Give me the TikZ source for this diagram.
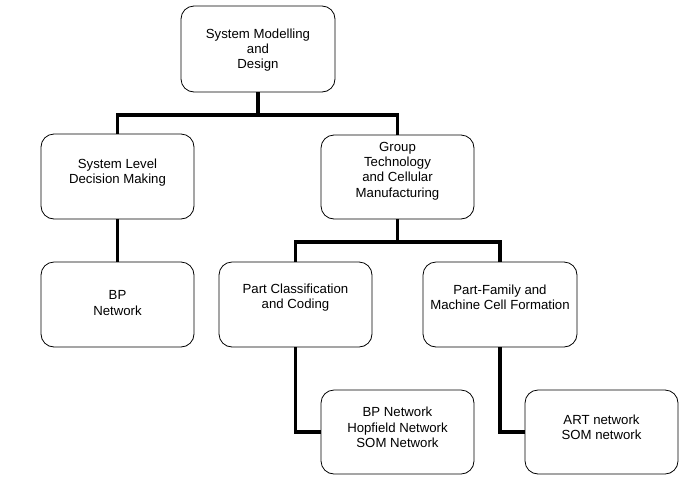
\documentclass[tikz,border=0pt]{standalone}
\usepackage{fontspec}
\setmainfont{Liberation Sans}
\begin{document}
\begin{tikzpicture}[x=1pt,y=-1pt,
  box/.style={draw=black,line width=0.8pt,rounded corners=13pt,fill=white,
    minimum width=153pt,minimum height=85pt,inner sep=0pt},
  txt/.style={align=center,inner sep=0pt,font=\fontsize{13.2}{15.4}\selectfont},
  conn/.style={line width=3.6pt,line join=miter,line cap=butt}]
\useasboundingbox (0,0) rectangle (687,485);
% boxes
\node[box,minimum width=154pt,minimum height=86pt] (top) at (258,49) {};
\node[box] (sl) at (117.5,176.5) {};
\node[box,minimum height=84pt] (gt) at (397.5,177) {};
\node[box] (bp) at (117.5,304.5) {};
\node[box] (pc) at (295.5,304.5) {};
\node[box,minimum width=154pt] (pf) at (500,304.5) {};
\node[box,minimum height=84pt] (bh) at (397.5,432) {};
\node[box,minimum height=84pt] (art) at (601.5,432) {};
% junctions
\coordinate (j1) at (258,115);
\coordinate (j2) at (397.5,242);
% connectors
\draw[conn] (top.south) -- (j1);
\draw[conn] (sl.north) |- (j1) -| (gt.north);
\draw[conn] (sl.south) -- (bp.north);
\draw[conn] (gt.south) -- (j2);
\draw[conn] (pc.north) |- (j2) -| (pf.north);
\draw[conn] (pc.south) |- (bh.west);
\draw[conn] (pf.south) |- (art.west);
% texts
\node[txt] (ttop) at (258,50) {System Modelling\\and\\Design};
\node[txt] (tsl) at (117.5,172.5) {System Level\\Decision Making};
\node[txt] (tgt) at (397.5,171) {Group\\Technology\\and Cellular\\Manufacturing};
\node[txt] (tbp) at (117.5,303) {BP\\Network};
\node[txt] (tpc) at (295.5,297.5) {Part Classification\\and Coding};
\node[txt] (tpf) at (500,297.5) {Part-Family and\\Machine Cell Formation};
\node[txt] (tbh) at (397.5,427.5) {BP Network\\Hopfield Network\\SOM Network};
\node[txt] (tart) at (601.5,427.5) {ART network\\SOM network};
\end{tikzpicture}
\end{document}
